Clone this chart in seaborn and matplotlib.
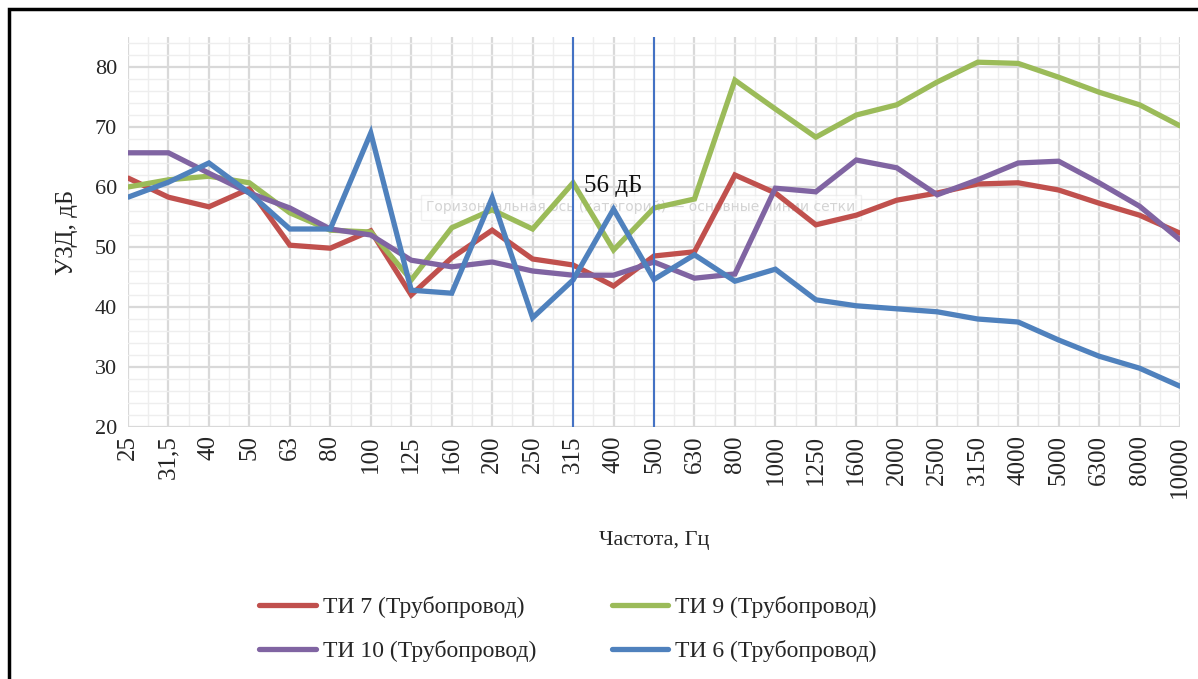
import matplotlib.pyplot as plt
import matplotlib.patches as mpatches
import seaborn as sns
import numpy as np

freqs = ['25', '31,5', '40', '50', '63', '80', '100', '125', '160', '200', '250', '315', '400',
         '500', '630', '800', '1000', '1250', '1600', '2000', '2500', '3150', '4000', '5000',
         '6300', '8000', '10000']

ti7 = [61.5, 58.3, 56.7, 59.7, 50.3, 49.8, 52.7, 42.0, 48.2, 52.8, 48.0, 47.0, 43.5,
       48.5, 49.2, 62.0, 59.0, 53.7, 55.3, 57.8, 59.0, 60.5, 60.7, 59.5, 57.3, 55.3, 52.3]
ti9 = [60.0, 61.2, 61.8, 60.7, 55.7, 52.8, 52.5, 44.5, 53.2, 56.2, 53.0, 60.7, 49.5,
       56.5, 58.0, 77.8, 73.0, 68.3, 72.0, 73.7, 77.5, 80.8, 80.6, 78.3, 75.8, 73.7, 70.2]
ti10 = [65.7, 65.7, 62.3, 59.0, 56.5, 53.0, 52.0, 47.8, 46.7, 47.5, 46.0, 45.3, 45.3,
        47.5, 44.8, 45.5, 59.8, 59.2, 64.5, 63.2, 58.7, 61.2, 64.0, 64.3, 60.7, 56.8, 51.2]
ti6 = [58.3, 60.8, 64.0, 59.0, 53.0, 53.0, 69.0, 42.8, 42.3, 58.2, 38.2, 44.5, 56.3,
       44.6, 48.7, 44.3, 46.3, 41.2, 40.2, 39.7, 39.2, 38.0, 37.5, 34.5, 31.8, 29.8, 26.8]

series = [('ТИ 7 (Трубопровод)', ti7, '#c0504d'),
          ('ТИ 9 (Трубопровод)', ti9, '#9bbb59'),
          ('ТИ 10 (Трубопровод)', ti10, '#8064a2'),
          ('ТИ 6 (Трубопровод)', ti6, '#4f81bd')]

sns.set_style('white')
plt.rcParams['font.family'] = ['Liberation Serif', 'DejaVu Serif']

W, H = 1198, 679
fig = plt.figure(figsize=(W / 100, H / 100), dpi=100)
ax = fig.add_axes([128 / W, 1 - 427 / H, (1180 - 128) / W, (427 - 37) / H])

x = np.arange(len(freqs))
for name, vals, col in series:
    sns.lineplot(x=x, y=vals, ax=ax, color=col, linewidth=3.8, label=name,
                 solid_joinstyle='miter')

# vertical marker lines at 315 and 500 Hz
for f in ['315', '500']:
    ax.axvline(freqs.index(f), color='#4472c4', linewidth=1.5, zorder=5)
ax.text(12, 60.1, '56 дБ', fontsize=18, ha='center', va='center', color='#111111', zorder=6)

# faint Excel tooltip leftover
ax.text(12.68, 56.6, 'Горизонтальная ось (категорий) — основные линии сетки',
        fontsize=10, family='DejaVu Sans', color='#d4d4d4', ha='center', va='center',
        zorder=1, bbox=dict(facecolor='white', edgecolor='#e6e6e6', alpha=0.6, pad=4))

ax.set_xlim(0, 26)
ax.set_ylim(20, 85)
ax.set_xticks(x)
ax.set_xticks(np.arange(0.5, 26, 1), minor=True)
ax.set_xticklabels(freqs, rotation=90, fontsize=18)
ax.set_yticks(range(20, 81, 10))
ax.set_yticks(range(20, 85, 2), minor=True)
ax.tick_params(axis='y', labelsize=16, length=0, pad=8)
ax.tick_params(axis='x', length=0, pad=6)
ax.tick_params(which='minor', length=0)
ax.grid(which='major', color='#d9d9d9', linewidth=1.6)
ax.grid(which='minor', color='#eeeeee', linewidth=1.0)
ax.set_axisbelow(True)
for s in ax.spines.values():
    s.set_visible(False)

ax.set_xlabel('Частота, Гц', fontsize=16, labelpad=24)
ax.set_ylabel('УЗД, дБ', fontsize=18, labelpad=12)

h, l = ax.get_legend_handles_labels()
order = [0, 2, 1, 3]
fig.legend([h[i] for i in order], [l[i] for i in order], ncol=2, frameon=False,
           fontsize=17, loc='center', bbox_to_anchor=(0.474, 1 - 629 / H),
           handlelength=2.4, columnspacing=3.2, labelspacing=0.95, handletextpad=0.3)
ax.get_legend().remove()

# outer frame of the figure
fig.patches.append(mpatches.Rectangle((9 / W, -0.1), 1.2, 1.1 - 9 / H, transform=fig.transFigure,
                                      fill=False, edgecolor='black', linewidth=2.5))

fig.savefig('out.png', dpi=100)
